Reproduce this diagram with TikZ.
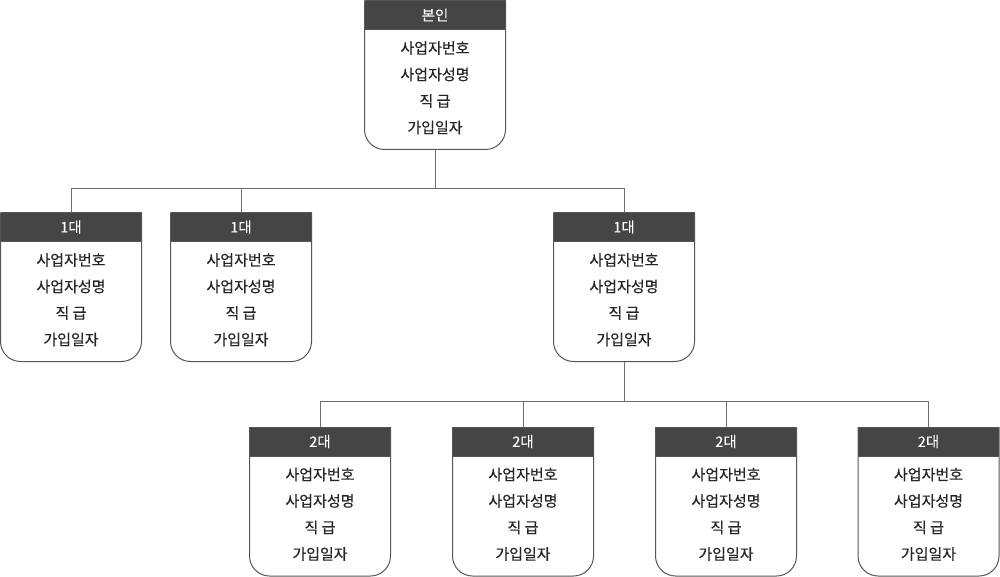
\documentclass[tikz,border=0pt]{standalone}
\usepackage{fontspec}
\setmainfont{Noto Sans CJK KR}
\newfontfamily\kr[FakeBold=0.4]{Noto Sans CJK KR}
\newfontfamily\krh[FakeBold=0.3]{Noto Sans CJK KR}
\definecolor{hdr}{HTML}{454545}
\definecolor{bord}{HTML}{555555}
\definecolor{conn}{HTML}{6E6E6E}
\tikzset{
  boxframe/.style={draw=none, minimum width=141pt, minimum height=149pt, inner sep=0pt, outer sep=0pt},
  boxline/.style={draw=bord, line width=1pt},
  hdrtext/.style={text=white, font=\krh\fontsize{14.5pt}{17pt}\selectfont, inner sep=0pt},
  bodytext/.style={text=black!85, font=\kr\fontsize{15pt}{18pt}\selectfont, inner sep=0pt},
  connline/.style={draw=conn, line width=1pt}
}
\newcommand{\personbox}[4]{%
  \node[boxframe, anchor=north west] (#1) at (#2,#3) {};
  \fill[hdr] (#1.north west) rectangle ([yshift=-29pt]#1.north east);
  \draw[boxline] ([yshift=-29pt]#1.north west) -- ([yshift=-29pt]#1.north east);
  \draw[boxline, rounded corners=20pt] (#1.north west) -- (#1.south west) -- (#1.south east) -- (#1.north east);
  \draw[boxline] (#1.north east) -- (#1.north west);
  \node[hdrtext] (#1h) at ([yshift=-14.5pt]#1.north) {#4};
  \node[bodytext] (#1l1) at ([yshift=-47.5pt]#1.north) {사업자번호};
  \node[bodytext] (#1l2) at ([yshift=-74pt]#1.north) {사업자성명};
  \node[bodytext] (#1l3) at ([yshift=-100.5pt]#1.north) {직 급};
  \node[bodytext] (#1l4) at ([yshift=-127pt]#1.north) {가입일자};
}
\begin{document}
\begin{tikzpicture}[x=1pt,y=1pt]
\useasboundingbox (0,0) rectangle (1000,-577);
\personbox{top}{364.5}{-0.5}{본인}
\personbox{a}{0.5}{-212.5}{1대}
\personbox{b}{170.5}{-212.5}{1대}
\personbox{c}{553.5}{-212.5}{1대}
\personbox{d}{249.5}{-427}{2대}
\personbox{e}{452.5}{-427}{2대}
\personbox{f}{655.5}{-427}{2대}
\personbox{g}{858}{-427}{2대}
\coordinate (j1) at ([yshift=-39pt]top.south);
\coordinate (j2) at ([yshift=-40pt]c.south);
\draw[connline] (top.south) -- (j1);
\draw[connline] (a.north) |- (j1) -| (c.north);
\draw[connline] (b.north) -- (b.north |- j1);
\draw[connline] (c.south) -- (j2);
\draw[connline] (d.north) |- (j2) -| (g.north);
\draw[connline] (e.north) -- (e.north |- j2);
\draw[connline] (f.north) -- (f.north |- j2);
\end{tikzpicture}
\end{document}
